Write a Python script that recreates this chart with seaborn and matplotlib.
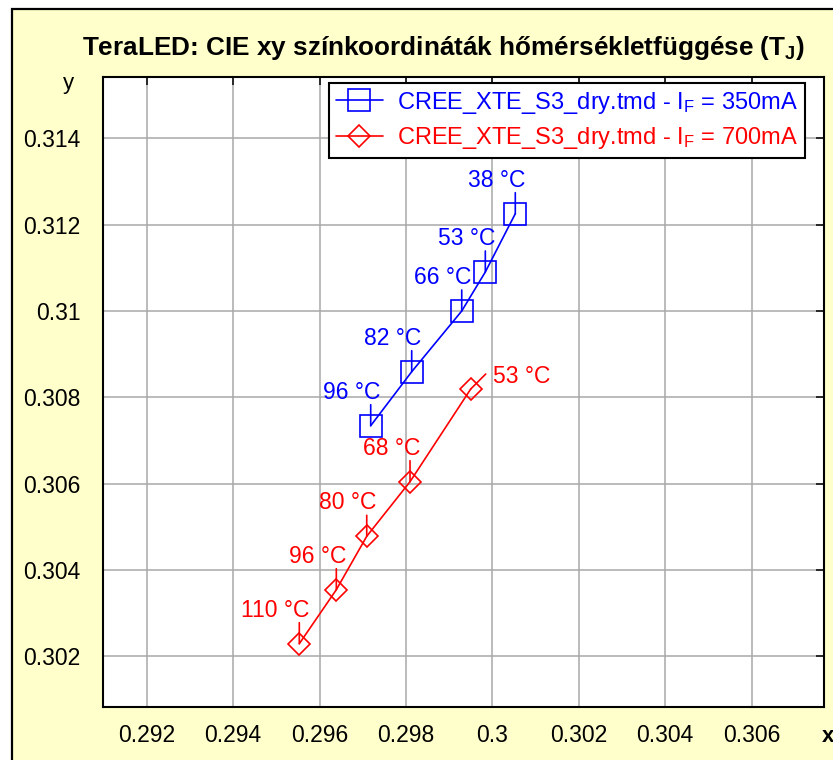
import matplotlib
matplotlib.use("Agg")
import matplotlib.pyplot as plt
import matplotlib.patches as mpatches
import seaborn as sns
import pandas as pd

# ---------------- data ----------------
blue_x = [0.300532, 0.299838, 0.299292, 0.298134, 0.297185]
blue_y = [0.312255, 0.310904, 0.310000, 0.308593, 0.307342]
blue_temps = ["38 °C", "53 °C", "66 °C", "82 °C", "96 °C"]

red_x = [0.299500, 0.298095, 0.297093, 0.296389, 0.295532]
red_y = [0.308192, 0.306044, 0.304779, 0.303541, 0.302290]
red_temps = ["53 °C", "68 °C", "80 °C", "96 °C", "110 °C"]

series_labels = [r"CREE_XTE_S3_dry.tmd - I$_\mathrm{F}$ = 350mA",
                 r"CREE_XTE_S3_dry.tmd - I$_\mathrm{F}$ = 700mA"]

x_ticks = [0.292, 0.294, 0.296, 0.298, 0.300, 0.302, 0.304, 0.306]
x_tick_labels = ["0.292", "0.294", "0.296", "0.298", "0.3", "0.302", "0.304", "0.306"]
y_ticks = [0.302, 0.304, 0.306, 0.308, 0.310, 0.312, 0.314]
y_tick_labels = ["0.302", "0.304", "0.306", "0.308", "0.31", "0.312", "0.314"]

title = r"TeraLED: CIE xy színkoordináták hőmérsékletfüggése (T$_\mathbf{J}$)"

# ---------------- style ----------------
sns.set_style("white")
plt.rcParams["font.family"] = ["Liberation Sans", "DejaVu Sans"]
plt.rcParams["mathtext.fontset"] = "custom"
plt.rcParams["mathtext.rm"] = "Liberation Sans"
plt.rcParams["mathtext.it"] = "Liberation Sans:italic"
plt.rcParams["mathtext.bf"] = "Liberation Sans:bold"

W, H = 833, 760
fig = plt.figure(figsize=(W / 100, H / 100), dpi=100, facecolor="white")

# background panel with black frame (cropped at right/bottom)
bg = mpatches.Rectangle((12 / W, -0.1), 1.2, 1 - 9 / H + 0.1, transform=fig.transFigure,
                        facecolor="#FFFFCC", edgecolor="black", linewidth=1.6, zorder=-10)
fig.patches.append(bg)

L, R, T, B = 103, 824, 77, 707
ax = fig.add_axes([L / W, 1 - B / H, (R - L) / W, (B - T) / H])
ax.set_zorder(1)
ax.set_facecolor("white")

blue = "#0000FF"
red = "#FF0000"
FS = 16.5

df_b = pd.DataFrame({"x": blue_x, "y": blue_y})
df_r = pd.DataFrame({"x": red_x, "y": red_y})

sns.lineplot(data=df_b, x="x", y="y", ax=ax, color=blue, marker="s", markersize=16,
             markerfacecolor="none", markeredgecolor=blue, markeredgewidth=1.2,
             linewidth=1.2, sort=False, legend=False, zorder=3)
sns.lineplot(data=df_r, x="x", y="y", ax=ax, color=red, marker="D", markersize=11.5,
             markerfacecolor="none", markeredgecolor=red, markeredgewidth=1.2,
             linewidth=1.2, sort=False, legend=False, zorder=3)

ax.set_xlim(0.290988, 0.307678)
ax.set_ylim(0.300823, 0.315423)
ax.set_xticks(x_ticks)
ax.set_xticklabels(x_tick_labels)
ax.set_yticks(y_ticks)
ax.set_yticklabels(y_tick_labels)
ax.set_xlabel("")
ax.set_ylabel("")

ax.grid(True, color="#A8A8A8", linewidth=1.1)
ax.set_axisbelow(True)
ax.tick_params(axis="both", direction="in", length=6, width=1.1, color="black",
               top=True, right=True, labelsize=FS, labelcolor="black")
ax.tick_params(axis="x", pad=12)
ax.tick_params(axis="y", pad=16)
for s in ax.spines.values():
    s.set_visible(True)
    s.set_color("black")
    s.set_linewidth(1.5)

# point labels with leader lines
def label_points(xs, ys, texts, color, special=None):
    for i, (px, py, t) in enumerate(zip(xs, ys, texts)):
        if special is not None and i == special:
            ax.annotate("", xy=(px, py), xytext=(15, 15), textcoords="offset pixels",
                        arrowprops=dict(arrowstyle="-", color=color, lw=1.2,
                                        shrinkA=0, shrinkB=0), zorder=4)
            ax.annotate(t, xy=(px, py), xytext=(22, 6), textcoords="offset pixels",
                        ha="left", va="baseline", color=color, fontsize=FS, zorder=4)
        else:
            ax.annotate("", xy=(px, py), xytext=(0, 21), textcoords="offset pixels",
                        arrowprops=dict(arrowstyle="-", color=color, lw=1.2,
                                        shrinkA=0, shrinkB=0), zorder=4)
            ax.annotate(t, xy=(px, py), xytext=(10, 27), textcoords="offset pixels",
                        ha="right", va="baseline", color=color, fontsize=FS, zorder=4)

label_points(blue_x, blue_y, blue_temps, blue)
label_points(red_x, red_y, red_temps, red, special=0)

leg = ax.legend(handles=ax.lines[:2], labels=series_labels, loc="upper right",
                bbox_to_anchor=((805 - L) / (R - L), 1 - (83 - T) / (B - T)),
                borderaxespad=0, fontsize=17, frameon=True, fancybox=False,
                edgecolor="black", framealpha=1, handlelength=2.0, handletextpad=0.62,
                borderpad=0.28, labelspacing=0.4)
leg.get_frame().set_linewidth(1.5)
for txt, c in zip(leg.get_texts(), [blue, red]):
    txt.set_color(c)

fig.text(444 / W, 1 - 48 / H, title, ha="center", va="center", fontsize=18.8,
         fontweight="bold", color="black")
fig.text(68 / W, 1 - 83 / H, "y", ha="center", va="center", fontsize=16, color="black")
fig.text(822 / W, 1 - 737 / H, "x", ha="left", va="center", fontsize=16,
         fontweight="bold", color="black")

fig.savefig("out.png", dpi=100, facecolor="white")
